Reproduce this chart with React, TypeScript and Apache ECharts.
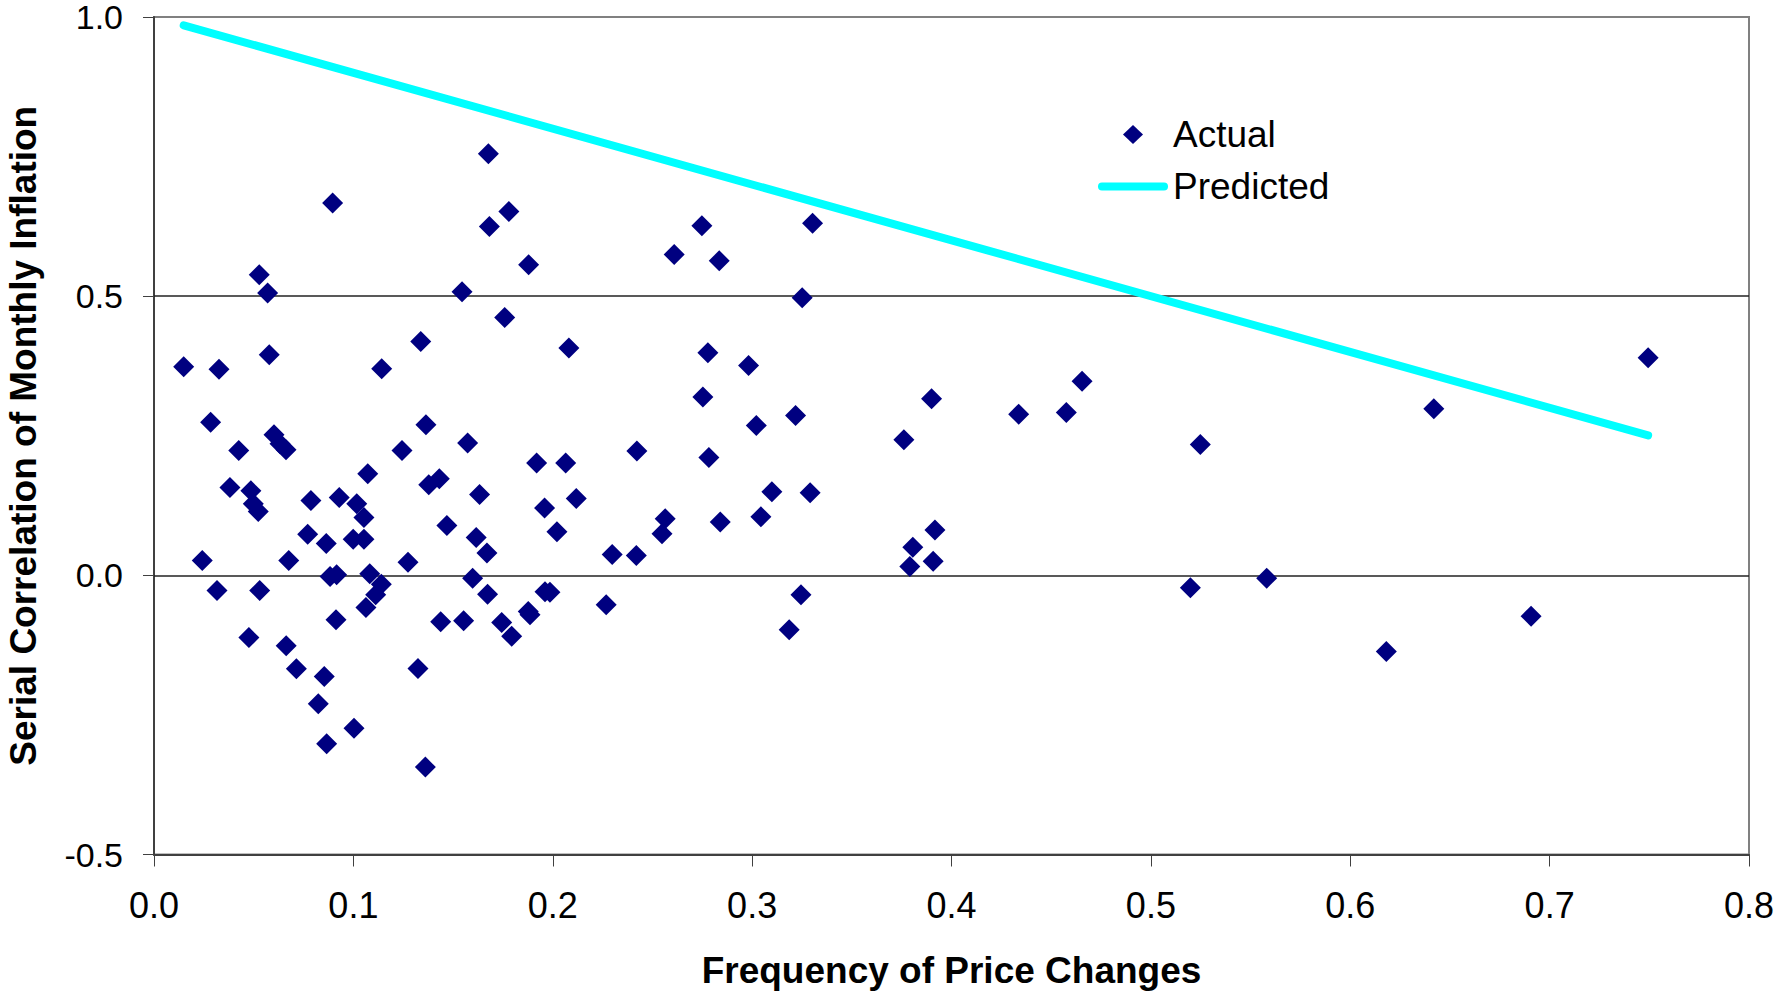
import React, { useEffect, useRef } from "react";
import * as echarts from "echarts";

// Frequency of price changes (x) for each "Actual" point
const actualFreq: number[] = [
  0.1677, 0.0896, 0.1780, 0.1682, 0.1879, 0.0528, 0.0570, 0.1545, 0.1759, 0.1338,
  0.2081, 0.0149, 0.0326, 0.0578, 0.1142,
  0.0284, 0.0425, 0.0602, 0.0632, 0.0662, 0.0381, 0.0486, 0.0498, 0.0523, 0.0787,
  0.0929, 0.1017, 0.1053, 0.1072, 0.0771, 0.0864, 0.0999, 0.1053, 0.0242, 0.0676,
  0.0883, 0.0916, 0.1082, 0.1140, 0.1112, 0.0316, 0.0530, 0.1063, 0.0913, 0.0476,
  0.0663, 0.0714, 0.0854, 0.0824, 0.1003, 0.0866, 0.1361, 0.1324, 0.1274, 0.1364,
  0.1244, 0.1573, 0.1378, 0.1431, 0.1633, 0.1469, 0.1616, 0.1670, 0.1598, 0.1673,
  0.1438, 0.1553, 0.1744, 0.1794, 0.1877, 0.1886, 0.1919, 0.2065, 0.2118, 0.1959,
  0.2021, 0.2298, 0.1961, 0.1986, 0.2268,
  0.2748, 0.3303, 0.2609, 0.2835, 0.3251, 0.2778, 0.2982, 0.2753, 0.3900, 0.3218,
  0.3021, 0.3761, 0.2422, 0.2783, 0.3099, 0.3291, 0.2564, 0.2548, 0.2840, 0.3044,
  0.3917, 0.3806, 0.3791, 0.3908, 0.2419, 0.3245, 0.3186,
  0.4337, 0.4576, 0.4655, 0.5248, 0.6419, 0.7494, 0.5198, 0.5581, 0.6181, 0.6907,
];

// Serial correlation of monthly inflation (y) for each "Actual" point
const actualCorr: number[] = [
  0.7550, 0.6667, 0.6516, 0.6248, 0.5562, 0.5382, 0.5055, 0.5078, 0.4618, 0.4188,
  0.4070, 0.3735, 0.3693, 0.3949, 0.3699,
  0.2744, 0.2235, 0.2517, 0.2355, 0.2248, 0.1573, 0.1514, 0.1281, 0.1143, 0.1340,
  0.1394, 0.1281, 0.1035, 0.1818, 0.0738, 0.0570, 0.0648, 0.0648, 0.0265, 0.0265,
  -0.0021, 0.0009, 0.0027, -0.0158, -0.0349, -0.0272, -0.0272, -0.0577, -0.0797, -0.1114,
  -0.1263, -0.1675, -0.1813, -0.2302, -0.2737, -0.3018, -0.3435, -0.1669, 0.0236, 0.2696,
  0.2235, 0.2368, 0.1621, 0.1728, 0.1447, 0.0892, 0.0677, 0.0398, -0.0050, -0.0337,
  -0.0833, -0.0815, -0.0845, -0.1089, -0.0648, -0.0708, 0.2010, 0.2010, 0.1376, 0.1204,
  0.0779, 0.0373, -0.0296, -0.0305, -0.0528,
  0.6260, 0.6308, 0.5746, 0.5633, 0.4970, 0.3985, 0.3758, 0.3192, 0.3161, 0.2862,
  0.2683, 0.2427, 0.2225, 0.2110, 0.1496, 0.1478, 0.1012, 0.0743, 0.0953, 0.1048,
  0.0810, 0.0505, 0.0158, 0.0254, 0.0355, -0.0349, -0.0976,
  0.2887, 0.2916, 0.3478, 0.2343, 0.2982, 0.3896, -0.0224, -0.0050, -0.1365, -0.0731,
];

// Predicted line (endpoints)
const predictedFreq: number[] = [0.0149, 0.7494];
const predictedCorr: number[] = [0.9851, 0.2506];

// Horizontal reference lines
const refLines: number[] = [0, 0.5];

const xTitle = "Frequency of Price Changes";
const yTitle = "Serial Correlation of Monthly Inflation";
const seriesNames = ["Actual", "Predicted"];

// Legend icons drawn in a 70x20 box (zero-length corner segments fix the bounds)
const diamondIcon =
  "path://M0,0 L0,0 M70,20 L70,20 M35,0.5 L45,10 L35,19.5 L25,10 Z";
const lineIcon =
  "path://M0,0 L0,0 M70,20 L70,20 M4,6 L66,6 A4,4 0 0 1 66,14 L4,14 A4,4 0 0 1 4,6 Z";

export default function App() {
  const ref = useRef<HTMLDivElement>(null);

  useEffect(() => {
    if (!ref.current) return;
    const chart = echarts.init(ref.current, null, { renderer: "svg" });
    const axisColor = "#404040";
    const option: any = {
      animation: false,
      backgroundColor: "#ffffff",
      grid: {
        left: 154,
        top: 17,
        right: 27,
        bottom: 137.5,
        show: true,
        borderColor: "#808080",
        borderWidth: 2,
        backgroundColor: "#ffffff",
        containLabel: false,
        outerBoundsMode: "none",
      },
      legend: {
        data: [
          { name: seriesNames[0], icon: diamondIcon, itemStyle: { color: "#000080", opacity: 1 } },
          { name: seriesNames[1], icon: lineIcon, itemStyle: { color: "#00FFFF", opacity: 1 } },
        ],
        orient: "vertical",
        left: 1098,
        top: 116,
        padding: 0,
        itemWidth: 70,
        itemHeight: 20,
        itemGap: 15,
        textStyle: {
          fontFamily: "Liberation Sans, Arial, sans-serif",
          fontSize: 37,
          color: "#000",
        },
      },
      xAxis: {
        type: "value",
        min: 0,
        max: 0.8,
        interval: 0.1,
        name: xTitle,
        nameLocation: "middle",
        nameGap: 97,
        nameTextStyle: {
          fontFamily: "Liberation Sans, Arial, sans-serif",
          fontWeight: "bold",
          fontSize: 37,
          color: "#000",
        },
        axisLine: { show: true, onZero: false, lineStyle: { color: axisColor, width: 2 } },
        axisTick: { show: true, inside: false, length: 12, lineStyle: { color: axisColor, width: 1 } },
        axisLabel: {
          margin: 33,
          fontFamily: "Liberation Sans, Arial, sans-serif",
          fontSize: 36,
          color: "#000",
          formatter: (v: number) => v.toFixed(1),
        },
        splitLine: { show: false },
      },
      yAxis: {
        type: "value",
        min: -0.5,
        max: 1.0,
        interval: 0.5,
        name: yTitle,
        nameLocation: "middle",
        nameGap: 112,
        nameTextStyle: {
          fontFamily: "Liberation Sans, Arial, sans-serif",
          fontWeight: "bold",
          fontSize: 37,
          color: "#000",
        },
        axisLine: { show: true, onZero: false, lineStyle: { color: axisColor, width: 2 } },
        axisTick: { show: true, inside: false, length: 11, lineStyle: { color: axisColor, width: 1 } },
        axisLabel: {
          margin: 31,
          fontFamily: "Liberation Sans, Arial, sans-serif",
          fontSize: 34,
          lineHeight: 26,
          color: "#000",
          formatter: (v: number) => v.toFixed(1),
        },
        splitLine: { show: false },
      },
      series: [
        {
          name: seriesNames[0],
          type: "scatter",
          symbol: "diamond",
          symbolSize: 21,
          itemStyle: { color: "#000080", opacity: 1 },
          data: actualFreq.map((x, i) => [x, actualCorr[i]]),
          markLine: {
            silent: true,
            symbol: ["none", "none"],
            label: { show: false },
            lineStyle: { color: "#222", width: 1.5, type: "solid" },
            data: refLines.map((v) => ({ yAxis: v })),
            z: 1,
          },
          z: 3,
        },
        {
          name: seriesNames[1],
          type: "line",
          showSymbol: false,
          symbol: "none",
          lineStyle: { color: "#00FFFF", width: 8, cap: "round" },
          itemStyle: { color: "#00FFFF" },
          data: predictedFreq.map((x, i) => [x, predictedCorr[i]]),
          z: 4,
        },
      ],
    };
    chart.setOption(option);
    return () => chart.dispose();
  }, []);

  return (
    <div
      ref={ref}
      style={{ position: "absolute", left: 0, top: 0, width: "1776px", height: "992px", background: "#fff" }}
    />
  );
}
